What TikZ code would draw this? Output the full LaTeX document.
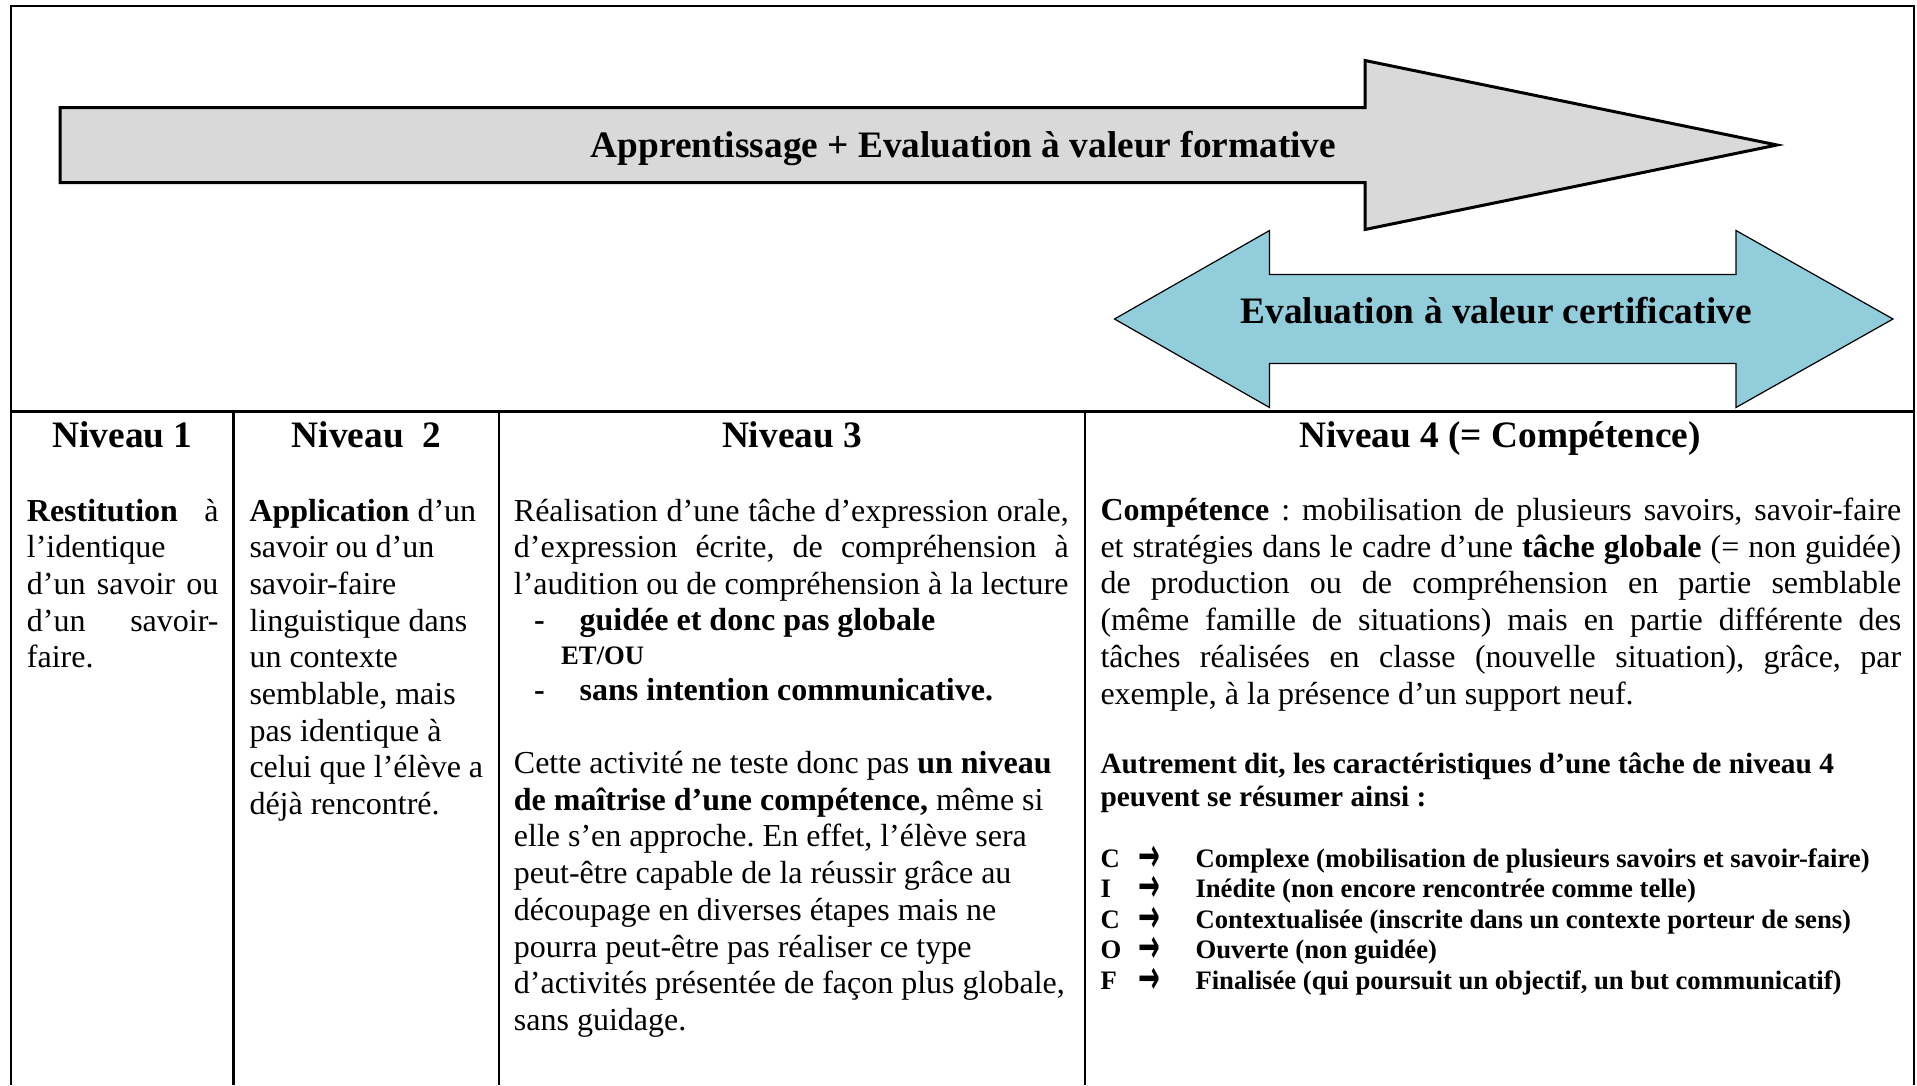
\documentclass[tikz,border=0pt]{standalone}
\usepackage{fontspec}
\usepackage{graphicx}
\setmainfont{Liberation Serif}
\newfontfamily\arrowfont{DejaVu Sans}
\newcommand\jline[2]{\makebox[#1pt][s]{#2}}
\newcommand\rowarrow{\smash{\raisebox{-4pt}{\scalebox{1}[1.8]{\arrowfont\bfseries\fontsize{26}{26}\selectfont →}}}}
\frenchspacing
\begin{document}
\begin{tikzpicture}[x=1pt,y=-1pt,
  frame/.style={line width=2.2pt},
  grayarrow/.style={fill=arrowgray, draw=black, line width=3pt, line join=miter},
  bluearrow/.style={fill=arrowblue, draw=black, line width=1.2pt, line join=miter},
  big/.style={anchor=base, inner sep=0pt, font=\fontsize{37.33}{43}\selectfont\bfseries},
  head/.style={anchor=base, inner sep=0pt, font=\fontsize{37.33}{43}\selectfont\bfseries},
  body/.style={anchor=base west, inner sep=0pt, font=\fontsize{32}{36.7}\selectfont},
  bbody/.style={anchor=base west, inner sep=0pt, font=\fontsize{32}{36.7}\selectfont\bfseries},
  small/.style={anchor=base west, inner sep=0pt, font=\fontsize{29.33}{33.7}\selectfont\bfseries},
  tiny/.style={anchor=base west, inner sep=0pt, font=\fontsize{26.67}{30.7}\selectfont\bfseries},
]
\definecolor{arrowgray}{HTML}{D9D9D9}
\definecolor{arrowblue}{HTML}{92CDDC}
\useasboundingbox (0,0) rectangle (1917,1085);
\fill[white] (0,0) rectangle (1917,1085);

% frame and table
\draw[frame] (11,1085) -- (11,6) -- (1914,6) -- (1914,1085);
\draw[frame] (11,411.5) -- (1914,411.5);
\draw[frame] (233.5,411.5) -- (233.5,1085);
\draw[frame] (498.8,411.5) -- (498.8,1085);
\draw[frame] (1085,411.5) -- (1085,1085);

% arrows
\draw[grayarrow] (60,107.5) -- (1365,107.5) -- (1365,60.5) -- (1777,145) -- (1365,229.5) -- (1365,182.5) -- (60,182.5) -- cycle;
\node[big] (formative) at (963.5,157) {Apprentissage + Evaluation à valeur formative};

\draw[bluearrow] (1114.5,319) -- (1269.5,230.5) -- (1269.5,274.5) -- (1736,274.5) -- (1736,230.5) -- (1893,319) -- (1736,407.5) -- (1736,363.5) -- (1269.5,363.5) -- (1269.5,407.5) -- cycle;
\node[big] (certif) at (1496,323) {Evaluation à valeur certificative};

% headers
\node[head] (h1) at (122.5,447) {Niveau 1};
\node[head] (h2) at (366.5,447) {Niveau\ \ 2};
\node[head] (h3) at (792,447) {Niveau 3};
\node[head] (h4) at (1500,447) {Niveau 4 (= Compétence)};

% column 1
\node[body] (a1) at (26.7,521) {\jline{191.6}{\textbf{Restitution} à}};
\node[body] (a2) at (26.7,557.7) {l’identique};
\node[body] (a3) at (26.7,594.4) {\jline{191.6}{d’un savoir ou}};
\node[body] (a4) at (26.7,631.1) {\jline{191.6}{d’un savoir-}};
\node[body] (a5) at (26.7,667.8) {faire.};

% column 2
\node[body] (b1) at (249.3,521) {\textbf{Application} d’un};
\node[body] (b2) at (249.3,557.7) {savoir ou d’un};
\node[body] (b3) at (249.3,594.4) {savoir-faire};
\node[body] (b4) at (249.3,631.1) {linguistique dans};
\node[body] (b5) at (249.3,667.8) {un contexte};
\node[body] (b6) at (249.3,704.5) {semblable, mais};
\node[body] (b7) at (249.3,741.2) {pas identique à};
\node[body] (b8) at (249.3,777.9) {celui que l’élève a};
\node[body] (b9) at (249.3,814.6) {déjà rencontré.};

% column 3
\node[body] (c1) at (513.7,521) {\jline{554.9}{Réalisation d’une tâche d’expression orale,}};
\node[body] (c2) at (513.7,557.7) {\jline{554.9}{d’expression écrite, de compréhension à}};
\node[body] (c3) at (513.7,594.4) {l’audition ou de compréhension à la lecture};
\node[bbody] (c4d) at (534,630.6) {-};
\node[bbody] (c4) at (579.5,630.6) {guidée et donc pas globale};
\node[tiny] (c5) at (561,664) {ET/OU};
\node[bbody] (c6d) at (534,700.6) {-};
\node[bbody] (c6) at (579.5,700.6) {sans intention communicative.};
\node[body] (c7) at (513.7,773.5) {Cette activité ne teste donc pas \textbf{un niveau}};
\node[body] (c8) at (513.7,810.2) {\textbf{de maîtrise d’une compétence,} même si};
\node[body] (c9) at (513.7,846.9) {elle s’en approche. En effet, l’élève sera};
\node[body] (c10) at (513.7,883.6) {peut-être capable de la réussir grâce au};
\node[body] (c11) at (513.7,920.3) {découpage en diverses étapes mais ne};
\node[body] (c12) at (513.7,957) {pourra peut-être pas réaliser ce type};
\node[body] (c13) at (513.7,993.7) {d’activités présentée de façon plus globale,};
\node[body] (c14) at (513.7,1030.4) {sans guidage.};

% column 4
\node[body] (d1) at (1100.3,520.5) {\jline{800.7}{\textbf{Compétence} : mobilisation de plusieurs savoirs, savoir-faire}};
\node[body] (d2) at (1100.3,557.2) {\jline{800.7}{et stratégies dans le cadre d’une \textbf{tâche globale} (= non guidée)}};
\node[body] (d3) at (1100.3,593.9) {\jline{800.7}{de production ou de compréhension en partie semblable}};
\node[body] (d4) at (1100.3,630.6) {\jline{800.7}{(même famille de situations) mais en partie différente des}};
\node[body] (d5) at (1100.3,667.3) {\jline{800.7}{tâches réalisées en classe (nouvelle situation), grâce, par}};
\node[body] (d6) at (1100.3,704) {exemple, à la présence d’un support neuf.};
\node[small] (d7) at (1100.3,773.3) {Autrement dit, les caractéristiques d’une tâche de niveau 4};
\node[small] (d8) at (1100.3,806.7) {peuvent se résumer ainsi :};
\node[tiny] (r1) at (1100.3,867) {\makebox[38pt][l]{C}\makebox[57pt][l]{\rowarrow}Complexe (mobilisation de plusieurs savoirs et savoir-faire)};
\node[tiny] (r2) at (1100.3,897.6) {\makebox[38pt][l]{I}\makebox[57pt][l]{\rowarrow}Inédite (non encore rencontrée comme telle)};
\node[tiny] (r3) at (1100.3,928.2) {\makebox[38pt][l]{C}\makebox[57pt][l]{\rowarrow}Contextualisée (inscrite dans un contexte porteur de sens)};
\node[tiny] (r4) at (1100.3,958.8) {\makebox[38pt][l]{O}\makebox[57pt][l]{\rowarrow}Ouverte (non guidée)};
\node[tiny] (r5) at (1100.3,989.4) {\makebox[38pt][l]{F}\makebox[57pt][l]{\rowarrow}Finalisée (qui poursuit un objectif, un but communicatif)};
\end{tikzpicture}
\end{document}
